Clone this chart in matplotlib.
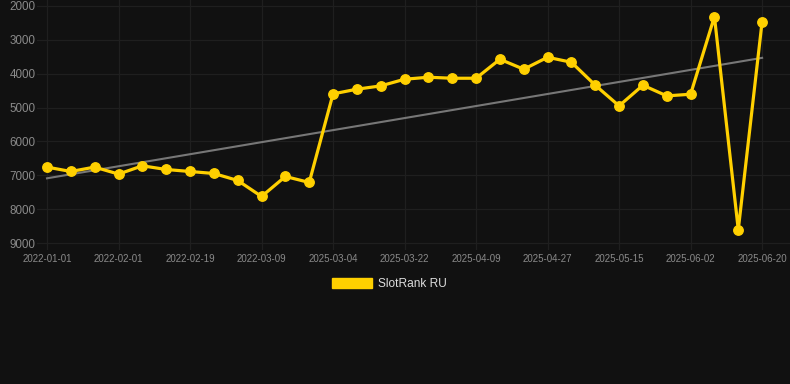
import matplotlib
matplotlib.use("Agg")
import matplotlib.pyplot as plt
from matplotlib.patches import Patch
import numpy as np

dates = [
    "2022-01-01", "2022-01-11", "2022-01-21", "2022-02-01", "2022-02-07", "2022-02-13",
    "2022-02-19", "2022-02-25", "2022-03-03", "2022-03-09", "2022-03-15", "2022-03-21",
    "2025-03-04", "2025-03-10", "2025-03-16", "2025-03-22", "2025-03-28", "2025-04-03",
    "2025-04-09", "2025-04-15", "2025-04-21", "2025-04-27", "2025-05-03", "2025-05-09",
    "2025-05-15", "2025-05-21", "2025-05-27", "2025-06-02", "2025-06-08", "2025-06-14",
    "2025-06-20",
]
rank = [
    6758, 6888, 6758, 6965, 6720, 6829, 6888, 6947, 7153, 7626, 7035, 7212,
    4596, 4457, 4360, 4163, 4104, 4134, 4134, 3573, 3868, 3514, 3662, 4340,
    4950, 4340, 4655, 4606, 2315, 8608, 2462,
]
series_name = "SlotRank RU"
y_ticks = [2000, 3000, 4000, 5000, 6000, 7000, 8000, 9000]

BG = "#111111"
YEL = "#FFD000"
GRID = "#1f1f1f"
TXT = "#8a8a8a"

W, H = 790, 384
# axes spans y=0..250 px; 2000 -> y=6, 9000 -> y=243
px_per_k = (243 - 6) / 7.0
y_top = 2000 - 6 / px_per_k * 1000
y_bot = 9000 + (250 - 243) / px_per_k * 1000

fig = plt.figure(figsize=(W / 100, H / 100), dpi=100, facecolor=BG)
ax = fig.add_axes([37 / W, 1 - 250 / H, (W - 37) / W, 250 / H])
ax.set_facecolor(BG)

x = np.arange(len(dates))
y = np.array(rank, dtype=float)

# trend line (least squares fit of the series)
coef = np.polyfit(x, y, 1)
ax.plot(x, np.polyval(coef, x), color="#777777", lw=1.5, zorder=2)

ax.plot(x, y, color=YEL, lw=2.3, marker="o", markersize=6.8,
        solid_joinstyle="miter", zorder=3)

ax.set_ylim(y_bot, y_top)
ax.set_xlim(-0.42, 31.17)
ax.set_yticks(y_ticks)
ax.set_yticklabels([str(v) for v in y_ticks])
tick_idx = list(range(0, len(dates), 3))
ax.set_xticks(tick_idx)
ax.set_xticklabels([dates[i] for i in tick_idx])

for s in ax.spines.values():
    s.set_visible(False)
ax.grid(True, color=GRID, lw=0.9, zorder=0)
ax.tick_params(axis="both", length=0, colors=TXT)
ax.tick_params(axis="y", pad=1, labelsize=8.4)
ax.tick_params(axis="x", pad=3, labelsize=7.0)
for lab in ax.get_xticklabels() + ax.get_yticklabels():
    lab.set_fontfamily("Liberation Sans")

leg = fig.legend(handles=[Patch(facecolor=YEL, edgecolor=YEL, label=series_name)],
                 loc="center", bbox_to_anchor=(389.5 / W, 1 - 284 / H),
                 frameon=False, handlelength=3.36, handleheight=0.92,
                 handletextpad=0.5, prop={"family": "Liberation Sans", "size": 8.6})
for t in leg.get_texts():
    t.set_color("#dddddd")

fig.savefig("out.png", dpi=100, facecolor=BG)
